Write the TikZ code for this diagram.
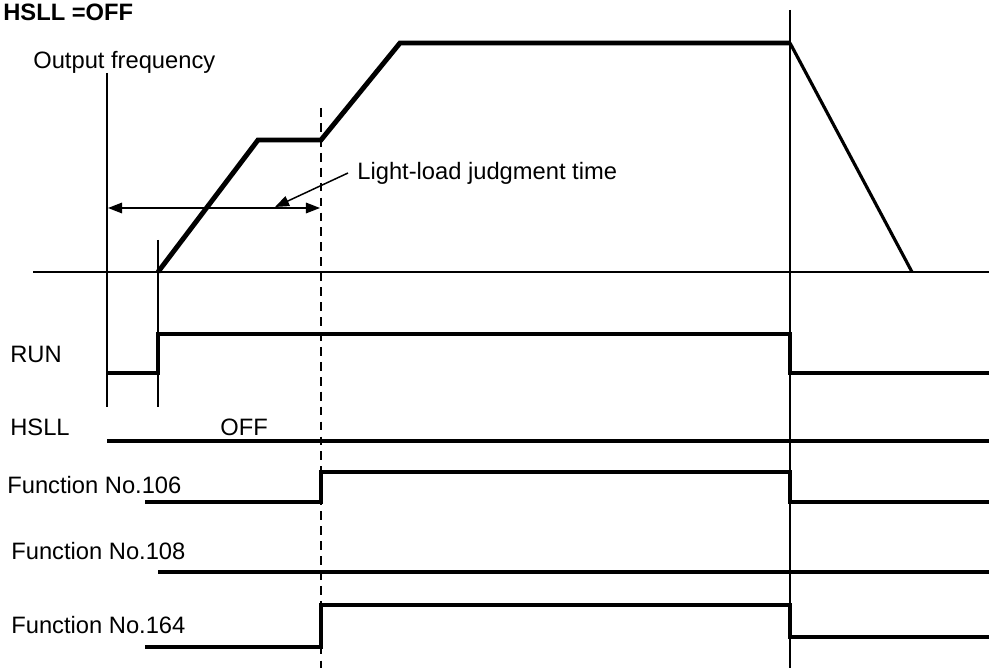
\documentclass[tikz,border=0pt]{standalone}
\usepackage{fontspec}
\setmainfont{Liberation Sans}
\usetikzlibrary{arrows.meta}

\begin{document}
\begin{tikzpicture}[x=0.02cm,y=-0.02cm]
\tikzstyle{every node}+=[inner sep=0pt,anchor=base west,font=\fontsize{13.5}{16}\selectfont]
\tikzstyle{thinline}=[black,line width=0.85pt]
\tikzstyle{signal}=[black,line width=2.2pt]
\tikzstyle{tip}=[-{Triangle[length=8pt,width=6pt]}]
\useasboundingbox (0,0) rectangle (989,668);
% titles and labels
\node (title) at (3,21) {\bfseries HSLL =OFF};
\node (freq) at (33,68.5) {Output frequency};
\node (judge) at (357,180) {Light-load judgment time};
\node (run) at (10,362) {RUN};
\node (hsll) at (10,435) {HSLL};
\node (off) at (220,435) {OFF};
\node (f106) at (7,493) {Function No.106};
\node (f108) at (11,559) {Function No.108};
\node (f164) at (11,633) {Function No.164};
% time marks
\coordinate (t0) at (107,73);
\coordinate (t1) at (158,240);
\coordinate (t2) at (321,108);
\coordinate (t3) at (790,10);
\draw [thinline] (t0) -- (107,407);
\draw [thinline] (t1) -- (158,407);
\draw [thinline,dash pattern=on 5pt off 3.5pt] (t2) -- (321,668);
\draw [thinline] (t3) -- (790,668);
% axis
\draw [thinline] (33,272) -- (989,272);
% output frequency curve
\coordinate (start) at (158,272);
\coordinate (acc1) at (258,140);
\coordinate (hold) at (321,140);
\coordinate (acc2) at (400,43);
\coordinate (stop) at (790,43);
\coordinate (zero) at (912,272);
\draw [black,line width=2.8pt,line join=miter] (start) -- (acc1) -- (hold) -- (acc2) -- (stop);
\draw [black,line width=1.8pt] (stop) -- (zero);
% judgment time
\coordinate (jl) at (108,208);
\coordinate (jr) at (320,208);
\coordinate (jp) at (275,207);
\draw [thinline,{Triangle[length=8pt,width=6pt]}-{Triangle[length=8pt,width=6pt]}] (jl) -- (jr);
\draw [thinline,tip] (348,173) -- (jp);
% RUN
\draw [signal] (107,373) -- (158,373) -- (158,334) -- (790,334) -- (790,373) -- (989,373);
% HSLL
\draw [signal,line width=1.8pt] (107,441) -- (989,441);
% Function No.106
\draw [signal] (145,502) -- (321,502) -- (321,472) -- (790,472) -- (790,502) -- (989,502);
% Function No.108
\draw [signal] (158,572) -- (989,572);
% Function No.164
\draw [signal] (145,647) -- (321,647) -- (321,605) -- (790,605) -- (790,637) -- (989,637);
\end{tikzpicture}
\end{document}
